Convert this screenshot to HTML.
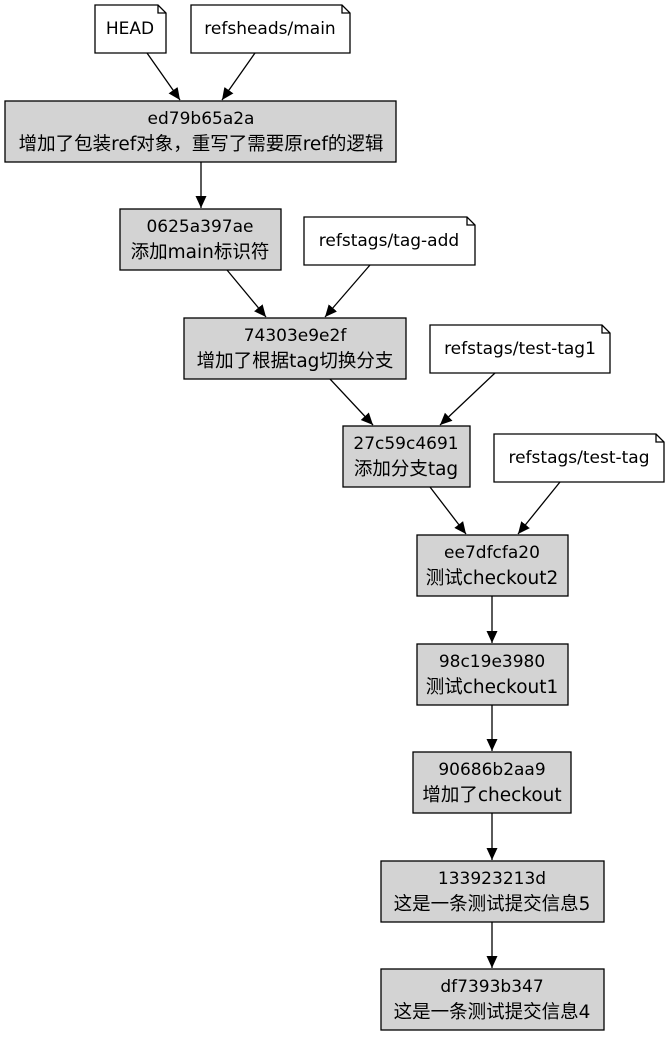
<!DOCTYPE html>
<html><head><meta charset="utf-8"><style>
html,body{margin:0;padding:0;background:#fff;}
svg{display:block;}
text{font-family:"DejaVu Sans","Noto Sans CJK SC",sans-serif;font-size:17px;fill:#000;text-anchor:middle;}
text.z{font-size:18.5px;}
.c{fill:#d3d3d3;stroke:#000;stroke-width:1.3;}
.n{fill:#fff;stroke:#000;stroke-width:1.3;}
.e{stroke:#000;stroke-width:1.3;fill:none;}
</style></head><body>
<svg width="669" height="1037" viewBox="0 0 669 1037" xmlns="http://www.w3.org/2000/svg">
<defs><marker id="a" markerWidth="12" markerHeight="12" refX="12" refY="6" orient="auto" markerUnits="userSpaceOnUse"><path d="M0,0.5 L12,6 L0,11.5 z" fill="#000"/></marker></defs>

<g>
<path class="n" d="M95,5 H158 L166,13 V53 H95 Z"/><path class="e" d="M158,5 V13 H166"/>
<text x="130" y="34">HEAD</text>
<path class="n" d="M191,5 H342 L350,13 V53 H191 Z"/><path class="e" d="M342,5 V13 H350"/>
<text x="270" y="34">refsheads/main</text>
<path class="n" d="M304,217 H467 L475,225 V265 H304 Z"/><path class="e" d="M467,217 V225 H475"/>
<text x="389" y="246">refstags/tag-add</text>
<path class="n" d="M430,325 H602 L610,333 V373 H430 Z"/><path class="e" d="M602,325 V333 H610"/>
<text x="520" y="354">refstags/test-tag1</text>
<path class="n" d="M494,434 H656 L664,442 V482 H494 Z"/><path class="e" d="M656,434 V442 H664"/>
<text x="579" y="463">refstags/test-tag</text>
</g>

<rect class="c" x="5" y="101" width="391" height="61"/>
<text x="201" y="124">ed79b65a2a</text><text class="z" x="201" y="150">增加了包装ref对象，重写了需要原ref的逻辑</text>
<rect class="c" x="120" y="209" width="161" height="61"/>
<text x="200" y="232">0625a397ae</text><text class="z" x="200" y="258">添加main标识符</text>
<rect class="c" x="184" y="318" width="222" height="61"/>
<text x="295" y="341">74303e9e2f</text><text class="z" x="295" y="367">增加了根据tag切换分支</text>
<rect class="c" x="343" y="426" width="127" height="61"/>
<text x="406" y="449">27c59c4691</text><text class="z" x="406" y="475">添加分支tag</text>
<rect class="c" x="417" y="535" width="151" height="61"/>
<text x="492" y="558">ee7dfcfa20</text><text class="z" x="492" y="584">测试checkout2</text>
<rect class="c" x="417" y="644" width="151" height="61"/>
<text x="492" y="667">98c19e3980</text><text class="z" x="492" y="693">测试checkout1</text>
<rect class="c" x="413" y="752" width="158" height="61"/>
<text x="492" y="775">90686b2aa9</text><text class="z" x="492" y="801">增加了checkout</text>
<rect class="c" x="381" y="861" width="223" height="61"/>
<text x="492" y="884">133923213d</text><text class="z" x="492" y="910">这是一条测试提交信息5</text>
<rect class="c" x="381" y="969" width="223" height="61"/>
<text x="492" y="992">df7393b347</text><text class="z" x="492" y="1018">这是一条测试提交信息4</text>

<g class="e" marker-end="url(#a)">
<line x1="147" y1="53" x2="180" y2="100"/>
<line x1="255" y1="53" x2="222" y2="100"/>
<line x1="201" y1="162" x2="201" y2="208"/>
<line x1="227" y1="270" x2="266" y2="317"/>
<line x1="370" y1="265" x2="325" y2="317"/>
<line x1="330" y1="379" x2="373" y2="425"/>
<line x1="495" y1="373" x2="440" y2="425"/>
<line x1="430" y1="487" x2="466" y2="534"/>
<line x1="560" y1="482" x2="518" y2="534"/>
<line x1="492" y1="596" x2="492" y2="643"/>
<line x1="492" y1="705" x2="492" y2="751"/>
<line x1="492" y1="813" x2="492" y2="860"/>
<line x1="492" y1="922" x2="492" y2="968"/>
</g>
</svg>
</body></html>
